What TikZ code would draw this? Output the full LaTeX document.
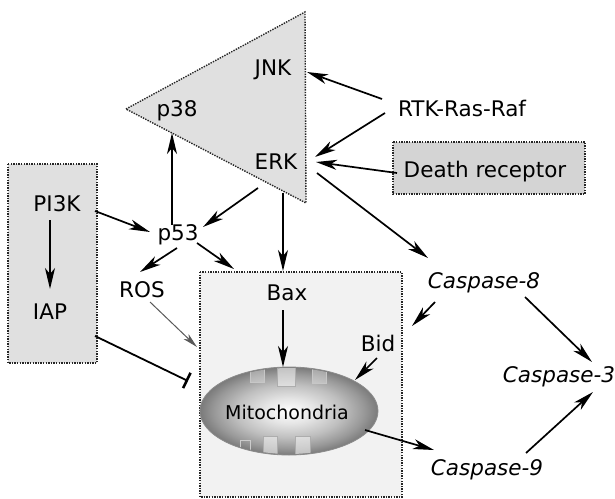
\documentclass[tikz,border=0pt]{standalone}
\usepackage{fontspec}
\setmainfont{DejaVu Sans}
\usetikzlibrary{arrows.meta,shapes.geometric}
\pgfdeclareradialshading{mitoshade}{\pgfpoint{0bp}{0bp}}{%
  color(0bp)=(white); color(7bp)=(black!10); color(15bp)=(black!25);
  color(21bp)=(black!40); color(25bp)=(black!52); color(50bp)=(black!52)}
\begin{document}
\begin{tikzpicture}[x=1pt,y=-1pt,
  lbl/.style={font=\fontsize{21.5}{24}\selectfont, inner sep=0pt},
  casp/.style={font=\fontsize{21.5}{24}\selectfont\itshape, inner sep=0pt},
  dotbox/.style={draw=black!85, line width=1.4pt, dash pattern=on 1.4pt off 1.2pt},
  act/.style={line width=1.7pt, -{Stealth[length=21pt,width=10pt,inset=6pt]}},
  thinact/.style={line width=1pt, draw=black!65, -{Stealth[length=15pt,width=7pt,inset=4pt]}},
  inhib/.style={line width=1.8pt, -{Bar[width=17pt,line width=2.6pt]}}]
\useasboundingbox (0,0) rectangle (615,498);

% signalling compartments
\path[dotbox, fill=black!12] (126,109) -- (305,12) -- (306,203) -- cycle;
\path[dotbox, fill=black!12] (8,164) rectangle (97,363);
\path[dotbox, fill=black!17] (393,142) rectangle (585,194);
\path[dotbox, fill=black!5] (200,272) rectangle (402,497);

% mitochondrion
\node[ellipse, minimum width=178pt, minimum height=88pt, inner sep=0pt,
      shading=mitoshade, draw=black!45, line width=0.8pt] (mitoE) at (289,411) {};
\begin{scope}
  \clip (289,411) ellipse [x radius=88, y radius=43];
  \draw[black!32, line width=0.8pt, fill=black!5, fill opacity=0.6]
    (277,360) -- (277,386) -- (295,386) -- (295,360);
  \draw[black!22, line width=0.7pt, fill=black!8, fill opacity=0.4]
    (250,360) -- (250,382) -- (264,382) -- (264,360)
    (312,360) -- (312,383) -- (326,383) -- (326,360);
  \draw[black!32, line width=0.8pt, fill=black!5, fill opacity=0.6]
    (263,460) -- (263,436) -- (277,436) -- (277,460)
    (295,460) -- (295,436) -- (310,436) -- (310,460);
  \draw[black!20, line width=0.7pt]
    (240,460) -- (240,440) -- (250,440) -- (250,460);
\end{scope}
\node[font=\fontsize{19}{22}\selectfont, inner sep=0pt] (mito) at (287,412) {Mitochondria};

% labels
\node[lbl] (jnk)   at (273,70)  {JNK};
\node[lbl] (p38)   at (177,111) {p38};
\node[lbl] (erk)   at (276,162) {ERK};
\node[lbl] (rtk)   at (462,108) {RTK-Ras-Raf};
\node[lbl] (death) at (485,172) {Death receptor};
\node[lbl] (pi3k)  at (57,204)  {PI3K};
\node[lbl] (iap)   at (50,312)  {IAP};
\node[lbl] (p53)   at (178,235) {p53};
\node[lbl] (ros)   at (142,290) {ROS};
\node[lbl] (bax)   at (287,293) {Bax};
\node[lbl] (bid)   at (378,343) {Bid};
\node[casp] (casp8) at (484,283) {Caspase-8};
\node[casp] (casp3) at (559,377) {Caspase-3};
\node[casp] (casp9) at (487,470) {Caspase-9};

% connector ends
\coordinate (rtkUp)   at (382,99);
\coordinate (rtkDn)   at (385,113);
\coordinate (jnkIn)   at (307,72);
\coordinate (erkIn1)  at (315,157);
\coordinate (erkIn2)  at (316,162);
\coordinate (deathOut) at (397,173);
\coordinate (erkOut)  at (317,173);
\coordinate (erkLo)   at (258,188);
\coordinate (erkDown) at (283,193);
\coordinate (c8In)    at (428,258);
\coordinate (pi3kOut) at (95,211);
\coordinate (p53In)   at (150,232);
\coordinate (pi3kDn)  at (50,220);
\coordinate (iapIn)   at (50,289);
\coordinate (p53Top)  at (172,225);
\coordinate (p38In)   at (172,133);
\coordinate (p53InR)  at (203,227);
\coordinate (boxTop)  at (283,271);
\coordinate (p53Dl)   at (177,248);
\coordinate (rosIn)   at (140,272);
\coordinate (p53Dr)   at (197,243);
\coordinate (boxCorner) at (234,269);
\coordinate (rosOut)  at (150,302);
\coordinate (boxSide) at (197,347);
\coordinate (iapOut)  at (95,336);
\coordinate (boxBar)  at (188,381);
\coordinate (baxOut)  at (283,310);
\coordinate (mitoTop) at (283,367);
\coordinate (bidOut)  at (377,358);
\coordinate (mitoRim) at (355,380);
\coordinate (mitoOut) at (365,430);
\coordinate (c9In)    at (434,450);
\coordinate (c8Out)   at (435,302);
\coordinate (boxRight) at (412,326);
\coordinate (c8Dr)    at (525,297);
\coordinate (c3InUp)  at (592,362);
\coordinate (c9Ur)    at (526,453);
\coordinate (c3InLo)  at (593,392);

% activation and inhibition
\draw[act] (rtkUp) -- (jnkIn);
\draw[act] (rtkDn) -- (erkIn1);
\draw[act] (deathOut) -- (erkIn2);
\draw[act] (erkOut) -- (c8In);
\draw[act] (pi3kOut) -- (p53In);
\draw[act] (pi3kDn) -- (iapIn);
\draw[act] (p53Top) -- (p38In);
\draw[act] (erkLo) -- (p53InR);
\draw[act] (erkDown) -- (boxTop);
\draw[act] (p53Dl) -- (rosIn);
\draw[act] (p53Dr) -- (boxCorner);
\draw[thinact] (rosOut) -- (boxSide);
\draw[inhib] (iapOut) -- (boxBar);
\draw[act] (baxOut) -- (mitoTop);
\draw[act] (bidOut) -- (mitoRim);
\draw[act] (mitoOut) -- (c9In);
\draw[act] (c8Out) -- (boxRight);
\draw[act] (c8Dr) -- (c3InUp);
\draw[act] (c9Ur) -- (c3InLo);
\end{tikzpicture}
\end{document}
